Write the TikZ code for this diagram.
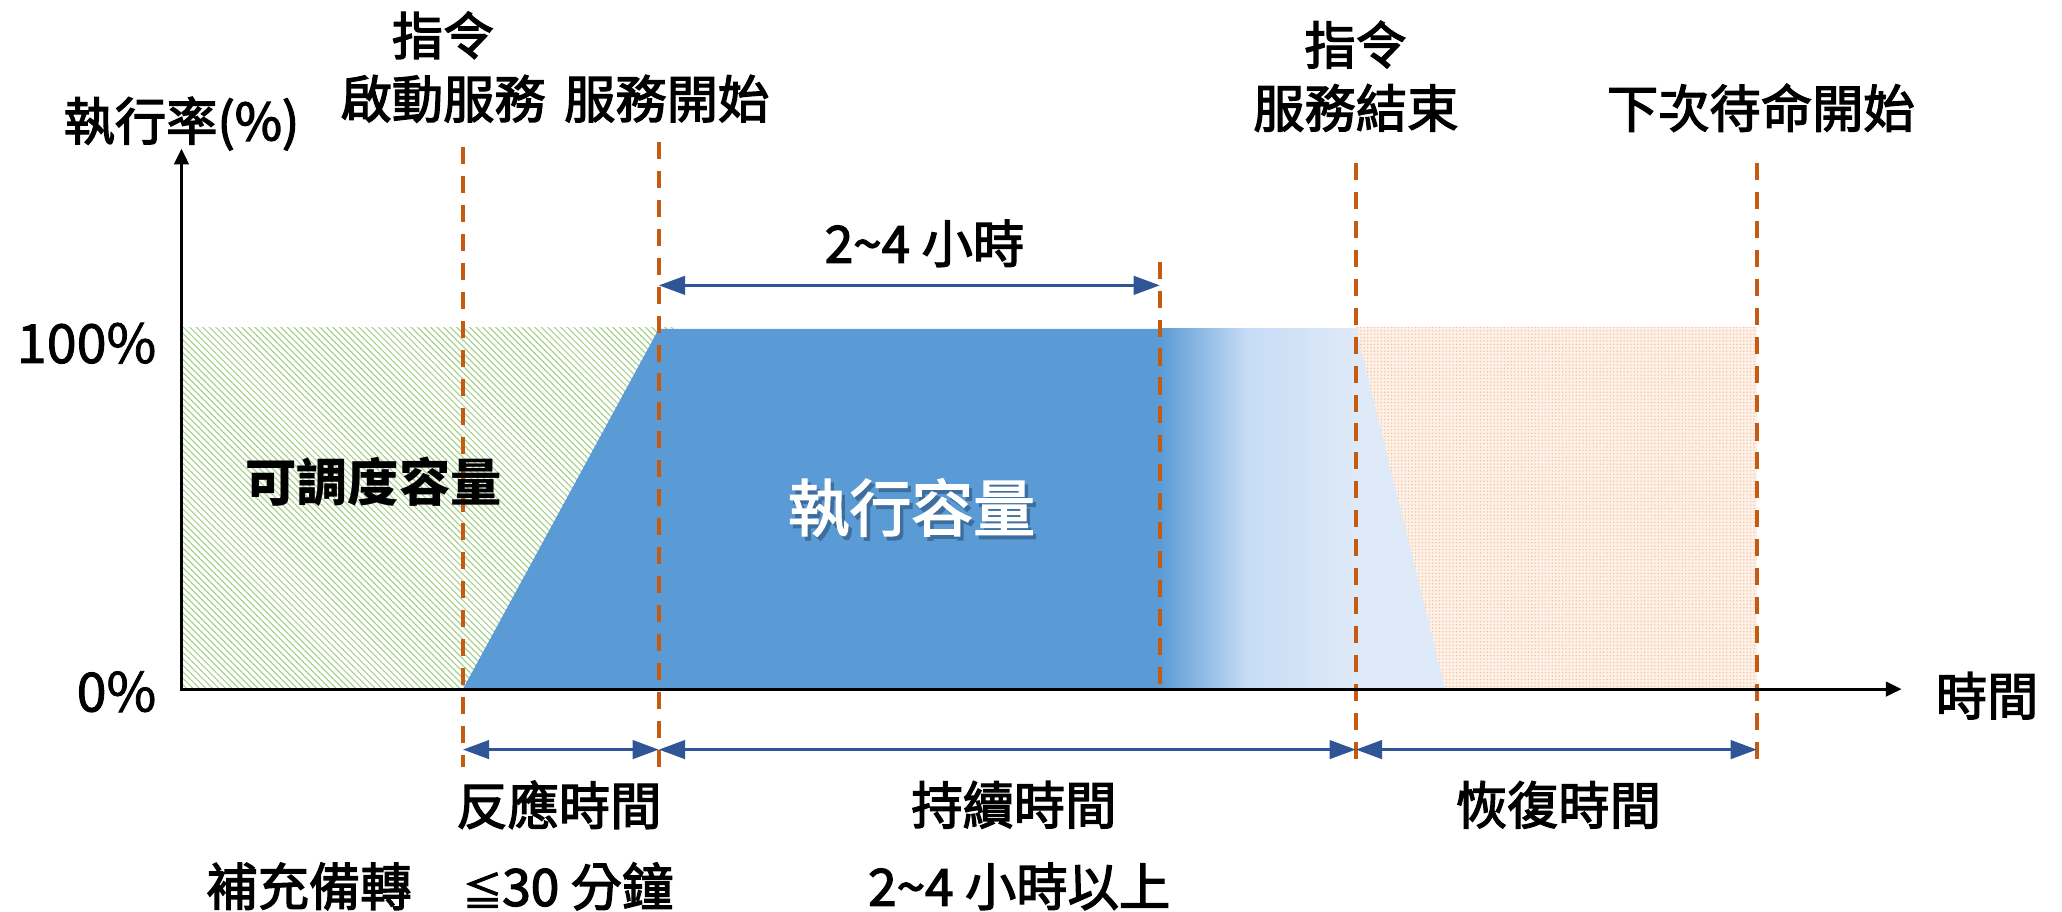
\documentclass[tikz,border=0pt]{standalone}
\usepackage{fontspec}
\setmainfont{Noto Sans CJK TC}
\newfontfamily\medfont{Noto Sans CJK TC}[FakeBold=2.5]
\newfontfamily\numfont{Noto Sans CJK TC}[FakeBold=1.5]
\usetikzlibrary{arrows.meta,patterns.meta}
\definecolor{mblue}{HTML}{5B9BD5}
\definecolor{lblue}{HTML}{C6DBF5}
\definecolor{pblue}{HTML}{DFEAF8}
\definecolor{dorange}{HTML}{C55A11}
\definecolor{darr}{HTML}{2F5597}
\definecolor{hgreen}{HTML}{A9D18E}
\definecolor{horange}{HTML}{F6C1A0}
\definecolor{forange}{HTML}{FDF0E7}
\definecolor{shadowblue}{HTML}{3E6E9E}
\begin{document}
\begin{tikzpicture}[x=1pt,y=-1pt,
  guide/.style={draw=dorange,line width=2.7pt,dash pattern=on 13pt off 9pt},
  span/.style={draw=darr,line width=2.5pt,{Triangle[length=20pt,width=14pt]}-{Triangle[length=20pt,width=14pt]}},
  axisline/.style={draw=black,line width=2.3pt,-{Triangle[length=12pt,width=11pt]}},
  lbl/.style={inner sep=0pt,font=\medfont\fontsize{39}{48}\selectfont,align=center},
  numlbl/.style={inner sep=0pt,font=\numfont\fontsize{41}{48}\selectfont},
  biglbl/.style={inner sep=0pt,font=\medfont\fontsize{47}{56}\selectfont},
]
\useasboundingbox (0,0) rectangle (1568,693.5);
% regions
\fill[pattern={Lines[angle=-45,distance=3.5pt,line width=0.9pt]},pattern color=hgreen] (138,249) rectangle (512,524);
\fill[forange] (1031,249) rectangle (1336,524);
\fill[pattern={Dots[distance=2.6pt,radius=0.6pt]},pattern color=horange] (1031,249) rectangle (1336,524);
\fill[mblue] (352,524) -- (501,250) -- (883,250) -- (883,524) -- cycle;
\shade[left color=mblue,right color=lblue] (882,250) rectangle (948,524);
\shade[left color=lblue,right color=pblue] (947.5,250) rectangle (1031.5,524);
\fill[pblue] (1031,250) -- (1099,524) -- (1031,524) -- cycle;
% coordinates
\coordinate (O) at (138,524);
\coordinate (Ytop) at (138,113);
\coordinate (Xend) at (1446,524);
\coordinate (L1t) at (352,112);  \coordinate (L1b) at (352,583);
\coordinate (L2t) at (501,108);  \coordinate (L2b) at (501,583);
\coordinate (L3t) at (882,199);  \coordinate (L3b) at (882,524);
\coordinate (L4t) at (1031,124); \coordinate (L4b) at (1031,583);
\coordinate (L5t) at (1336,124); \coordinate (L5b) at (1336,583);
\coordinate (A2) at (501,217);   \coordinate (A3) at (882,217);
\coordinate (B1) at (352,570);   \coordinate (B2) at (501,570);
\coordinate (B4) at (1031,570);  \coordinate (B5) at (1336,570);
% guides
\draw[guide] (L1t) -- (L1b);
\draw[guide] (L2t) -- (L2b);
\draw[guide] (L3t) -- (L3b);
\draw[guide] (L4t) -- (L4b);
\draw[guide] (L5t) -- (L5b);
% axes
\draw[axisline] (O) -- (Ytop);
\draw[axisline] ([xshift=-1.2pt]O) -- (Xend);
% spans
\draw[span] (A2) -- (A3);
\draw[span] (B1) -- (B2);
\draw[span] (B2) -- (B4);
\draw[span] (B4) -- (B5);
% labels
\node[lbl] (ylab) at (138,94) {執行率(\%)};
\node[numlbl,anchor=east] (p100) at (119,261) {100\%};
\node[numlbl,anchor=east] (p0) at (119,526) {0\%};
\node[lbl] (cmd1) at (337,51) {指令\\啟動服務};
\node[lbl] (start) at (507,75) {服務開始};
\node[lbl] (cmd2) at (1031,58) {指令\\服務結束};
\node[lbl] (next) at (1339,82) {下次待命開始};
\node[lbl] (dur) at (703,185) {2\textasciitilde4 小時};
\node[lbl,font=\fontsize{39}{48}\selectfont\bfseries] (disp) at (284,366) {可調度容量};
\node[biglbl,text=shadowblue] (execsh) at (695.5,389) {執行容量};
\node[biglbl,text=white] (exec) at (693,386) {執行容量};
\node[lbl] (time) at (1511,529) {時間};
\node[lbl] (resp) at (425,612) {反應時間};
\node[lbl] (cont) at (771,612) {持續時間};
\node[lbl] (rec) at (1185,612) {恢復時間};
\node[lbl] (sup) at (235,674) {補充備轉};
\node[lbl] (lim) at (432,674) {{\fontsize{30}{30}\selectfont ≦}30 分鐘};
\node[lbl] (lim2) at (775,674) {2\textasciitilde4 小時以上};
\end{tikzpicture}
\end{document}
